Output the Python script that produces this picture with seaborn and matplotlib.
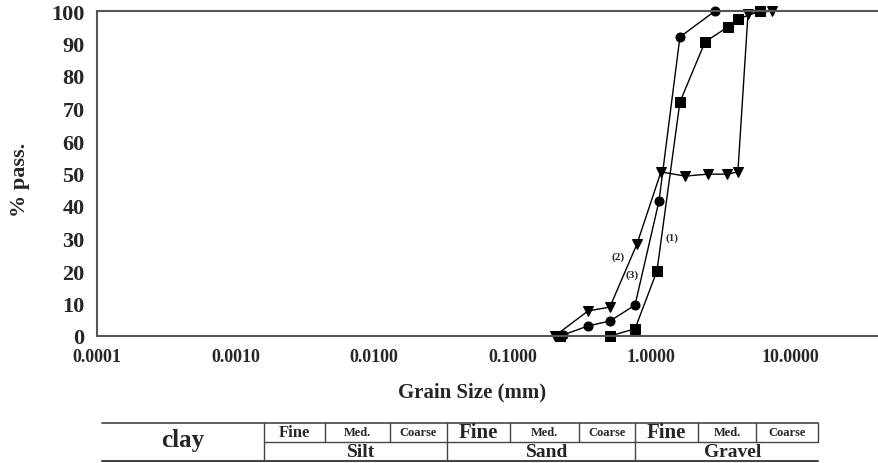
import numpy as np
import matplotlib
matplotlib.use("Agg")
import matplotlib.pyplot as plt
import seaborn as sns

# grain size distribution (mm, % passing)
sq_size = [0.219, 0.502, 0.762, 1.097, 1.607, 2.44, 3.57, 4.21, 6.08]
sq_pass = [0.0, 0.0, 2.2, 20.0, 72.0, 90.5, 95.1, 97.5, 100.0]

tri_size = [0.201, 0.349, 0.502, 0.787, 1.173, 1.747, 2.56, 3.51, 4.21, 4.98, 7.41]
tri_pass = [0.0, 7.7, 8.9, 28.3, 50.5, 49.2, 49.8, 49.8, 50.5, 99.1, 100.0]

cir_size = [0.230, 0.349, 0.502, 0.762, 1.135, 1.607, 2.88]
cir_pass = [0.3, 3.1, 4.6, 9.5, 41.5, 92.0, 100.0]

curve_names = ["(1)", "(2)", "(3)"]
curve_label_x = [1.41, 0.574, 0.724]
curve_label_y = [30.5, 24.6, 19.1]

x_ticks = [0.0001, 0.001, 0.01, 0.1, 1.0, 10.0]
x_ticklabels = ["0.0001", "0.0010", "0.0100", "0.1000", "1.0000", "10.0000"]
y_ticks = list(range(0, 101, 10))

sns.set_style("white")
plt.rcParams["font.family"] = ["Liberation Serif", "DejaVu Serif"]
plt.rcParams["font.weight"] = "bold"

W, H = 879, 464
fig = plt.figure(figsize=(W / 100, H / 100), dpi=100)
ax = fig.add_axes([97 / W, 1 - 337 / H, 1 - 97 / W, (337 - 12) / H])

kw = dict(color="black", linewidth=1.0, markersize=6.5, clip_on=False,
          estimator=None, sort=False, markeredgecolor="black")
sns.lineplot(x=sq_size, y=sq_pass, marker="s", ax=ax, **kw)
sns.lineplot(x=tri_size, y=tri_pass, marker="v", ax=ax, **kw)
sns.lineplot(x=cir_size, y=cir_pass, marker="o", ax=ax, **kw)

for name, lx, ly in zip(curve_names, curve_label_x, curve_label_y):
    ax.text(lx, ly, name, fontsize=8, ha="center", va="center")

ax.set_xscale("log")
ax.set_xlim(1e-4, 43.9)
ax.set_ylim(0, 100)
ax.set_xticks(x_ticks)
ax.set_xticklabels(x_ticklabels)
ax.minorticks_off()
ax.set_yticks(y_ticks)
ax.tick_params(axis="x", length=0, pad=9, labelsize=13)
ax.tick_params(axis="y", length=0, pad=9, labelsize=16)
for s in ["left", "top", "bottom"]:
    ax.spines[s].set_color("#555555")
    ax.spines[s].set_linewidth(1.5)
ax.spines["right"].set_visible(False)

fig.text(20 / W, 1 - 180 / H, "% pass.", rotation=90, fontsize=16,
         ha="center", va="center")
fig.text(472 / W, 1 - 392 / H, "Grain Size (mm)", fontsize=15,
         ha="center", va="center")

# soil classification strip under the axis
def fx(px):
    return px / W

def fy(py):
    return 1 - py / H

lc = "#444444"
top, mid, bot = 424, 443, 462
fig.add_artist(plt.Line2D([fx(102), fx(818)], [fy(top), fy(top)], color=lc, lw=1.2))
fig.add_artist(plt.Line2D([fx(264), fx(818)], [fy(mid), fy(mid)], color=lc, lw=1.0))
fig.add_artist(plt.Line2D([fx(102), fx(818)], [fy(bot), fy(bot)], color=lc, lw=1.5))
for px in [264, 447, 635]:
    fig.add_artist(plt.Line2D([fx(px), fx(px)], [fy(top), fy(bot)], color=lc, lw=1.0))
for px in [325, 390, 510, 579, 698, 756, 818]:
    fig.add_artist(plt.Line2D([fx(px), fx(px)], [fy(top), fy(mid)], color=lc, lw=1.0))

fig.text(fx(183), fy(441), "clay", fontsize=18, ha="center", va="center")
sub_edges = [264, 325, 390, 447, 510, 579, 635, 698, 756, 818]
sub_names = ["Fine", "Med.", "Coarse"] * 3
sub_sizes = [12, 9, 9, 15, 9, 9, 15, 9, 9]
for i, (n, fs) in enumerate(zip(sub_names, sub_sizes)):
    cx = (sub_edges[i] + sub_edges[i + 1]) / 2
    fig.text(fx(cx), fy(433.5), n, fontsize=fs, ha="center", va="center")
for n, a, b in [("Silt", 264, 447), ("Sand", 447, 635), ("Gravel", 635, 818)]:
    fig.text(fx((a + b) / 2 + 6), fy(452.5), n, fontsize=14, ha="center", va="center")

fig.savefig("out.png", dpi=100)
